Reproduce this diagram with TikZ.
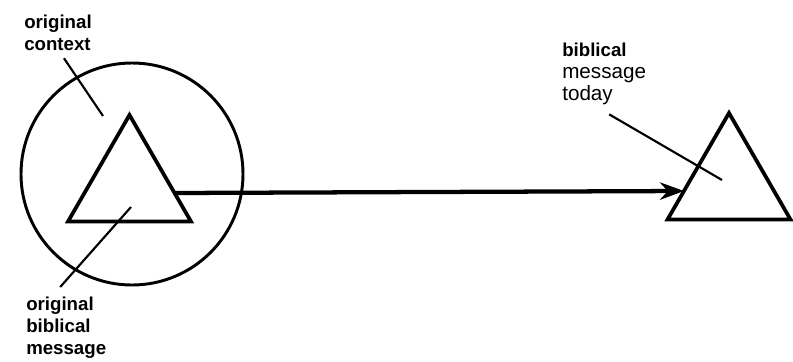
\documentclass[tikz,border=0pt]{standalone}
\usepackage{fontspec}
\setmainfont{Liberation Sans}
\usepackage{tikz}
\usetikzlibrary{shapes.geometric, arrows.meta, positioning, calc}
\definecolor{mydark}{RGB}{0,0,0}
\tikzset{
  ring/.style={circle, draw=mydark, minimum size=166.5pt, inner sep=0pt,
    line width=2.2pt},
  tri/.style={regular polygon, regular polygon sides=3, draw=mydark,
    minimum size=106.5pt, inner sep=0pt, outer sep=0pt, line width=2.8pt},
  lbl/.style={anchor=north west, align=left, inner sep=0pt,
    font=\fontsize{14}{16.5}\selectfont\bfseries},
  leader/.style={line width=1.6pt, color=mydark},
  arrow/.style={-{Stealth[length=18pt, width=13pt]}, line width=3.2pt, color=mydark}
}

\begin{document}
\begin{tikzpicture}[x=0.75pt, y=-0.75pt]
  \useasboundingbox (0,0) rectangle (793,361);
  % original context round the first message
  \node[ring] (ctx) at (132,174) {};
  \node[tri] (msg) at (129.5,186) {};
  \node[tri] (today) at (729,184) {};
  % labels
  \node[lbl] (ctxlbl) at (24,15) {original\\context};
  \node[lbl] (msglbl) at (26,297) {original\\biblical\\message};
  \node[lbl, font=\fontsize{15.5}{16.5}\selectfont] (todaylbl) at (562,43)
    {\fontsize{14}{16.5}\selectfont\bfseries biblical\\message\\today};
  % leader lines
  \coordinate (ctxpt) at (103,116);
  \coordinate (msgpt) at (131,207);
  \coordinate (todaypt) at (722,180);
  \draw[leader] ([shift={(6,7)}]ctxlbl.south) -- (ctxpt);
  \draw[leader] ([shift={(-6,-10)}]msglbl.north) -- (msgpt);
  \draw[leader] ([shift={(5,9)}]todaylbl.south) -- (todaypt);
  % then to now
  \draw[arrow] ([shift={(4,7)}]msg.east) -- ([shift={(-4,7)}]today.west);
\end{tikzpicture}
\end{document}
